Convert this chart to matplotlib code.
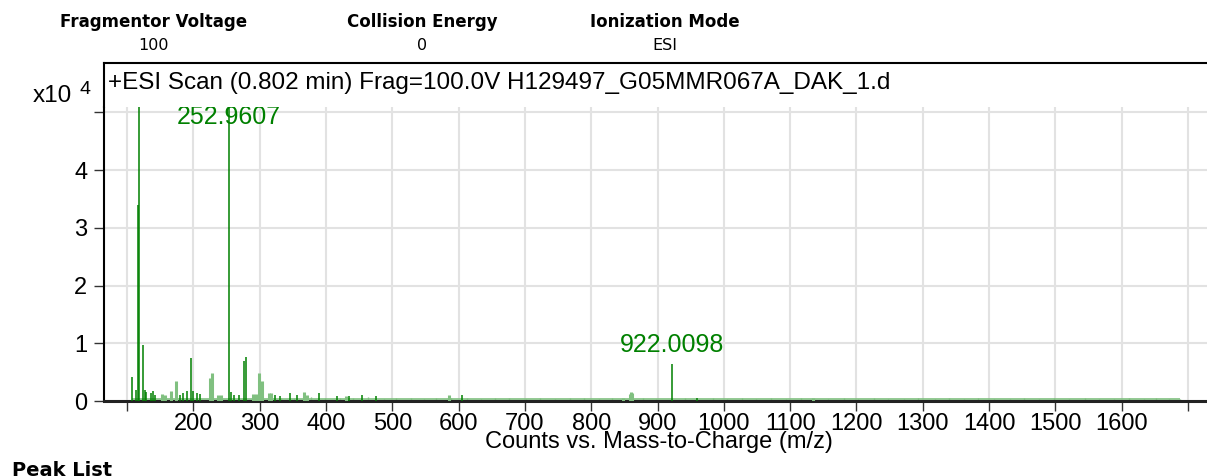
import numpy as np
import matplotlib.pyplot as plt
from matplotlib.ticker import FuncFormatter

# header info
header_names = ['Fragmentor Voltage', 'Collision Energy', 'Ionization Mode']
header_values = ['100', '0', 'ESI']
scan_title = '+ESI Scan (0.802 min) Frag=100.0V H129497_G05MMR067A_DAK_1.d'

# strong centroid peaks (m/z, counts x10^4)
dark_mz = [107.6, 114.0, 115.7, 118.0, 124.0, 127.4, 129.0, 136.0, 139.0, 142.6,
           179.6, 184.6, 190.7, 195.6, 198.6, 206.0, 209.6, 252.96, 256.7, 261.7,
           269.0, 276.5, 279.0, 322.7, 330.0, 345.0, 356.7, 389.5, 416.6, 434.7,
           454.8, 476.0, 604.3, 922.0098, 960.0]
dark_int = [0.41, 0.19, 3.40, 5.20, 0.97, 0.19, 0.15, 0.13, 0.17, 0.11,
            0.11, 0.13, 0.18, 0.74, 0.18, 0.13, 0.12, 5.20, 0.16, 0.11,
            0.10, 0.70, 0.76, 0.10, 0.08, 0.13, 0.10, 0.13, 0.08, 0.09,
            0.10, 0.08, 0.10, 0.64, 0.06]

# weaker / broader peaks drawn lighter
light_mz = [152.7, 157.7, 166.7, 173.5, 224.7, 227.7, 237.3, 240.8, 290.5, 293.6,
            298.1, 300.6, 303.6, 314.0, 316.7, 366.3, 371.3, 429.6, 585.6, 847.7,
            858.5, 860.5, 862.0, 1134.0]
light_int = [0.12, 0.10, 0.17, 0.35, 0.40, 0.48, 0.11, 0.10, 0.12, 0.12,
             0.48, 0.26, 0.35, 0.13, 0.13, 0.15, 0.11, 0.09, 0.10, 0.05,
             0.12, 0.15, 0.13, 0.06]

# low-level noise along the baseline
noise_mz = [332, 351, 377, 398, 421, 441, 463, 487, 506, 528, 547, 566, 589, 612,
            634, 655, 676, 701, 723, 746, 768, 789, 811, 832, 878, 897, 941, 983,
            1004, 1027, 1049, 1071, 1093, 1116, 1157, 1181, 1203, 1226, 1248, 1271,
            1293, 1318, 1339, 1362, 1384, 1407, 1431, 1452, 1476, 1498, 1521, 1544,
            1566, 1589, 1611, 1633, 1652, 1671, 1688]
noise_int = [0.06, 0.05, 0.07, 0.05, 0.06, 0.05, 0.07, 0.04, 0.05, 0.06, 0.04, 0.05,
             0.06, 0.05, 0.04, 0.05, 0.06, 0.04, 0.05, 0.04, 0.05, 0.06, 0.04, 0.05,
             0.05, 0.04, 0.05, 0.05, 0.04, 0.05, 0.04, 0.05, 0.04, 0.05, 0.04, 0.05,
             0.04, 0.05, 0.04, 0.04, 0.05, 0.04, 0.05, 0.04, 0.05, 0.04, 0.04, 0.05,
             0.04, 0.05, 0.04, 0.05, 0.04, 0.04, 0.05, 0.04, 0.05, 0.04, 0.04]
baseline_level = 0.03

labelled_mz = [252.9607, 922.0098]
labelled_int = [5.20, 0.64]

x_ticks = list(range(100, 1800, 100))
y_ticks = [0, 1, 2, 3, 4, 5]

green = '#008000'
light_green = '#80c080'

fig = plt.figure(figsize=(12.07, 4.76), dpi=100)
W, H = 1207.0, 476.0

# main plot area
ax = fig.add_axes([104 / W, (H - 401) / H, 0.920, (401 - 107) / H])
ax.set_xlim(65, 1740)
ax.set_ylim(0, 5.095)

ax.set_xticks(x_ticks)
ax.set_yticks(y_ticks)
ax.xaxis.set_major_formatter(FuncFormatter(lambda v, p: '' if v in (100, 1700) else '%d' % v))
ax.yaxis.set_major_formatter(FuncFormatter(lambda v, p: '' if v >= 5 else '%d' % v))
ax.grid(True, color='#e2e2e2', linewidth=1.5)
ax.set_axisbelow(True)
ax.tick_params(direction='out', length=7, width=1, color='#333333', labelsize=17, pad=2)
ax.tick_params(axis='y', pad=5)

for s in ['top', 'right']:
    ax.spines[s].set_visible(False)
ax.spines['left'].set_linewidth(1.5)
ax.spines['bottom'].set_linewidth(2.2)
ax.spines['bottom'].set_color('#222222')

ax.hlines(baseline_level, min(dark_mz), max(noise_mz), color=light_green, linewidth=1.2, zorder=2)
ax.vlines(noise_mz, 0, noise_int, color=light_green, linewidth=1.0, zorder=2)
ax.vlines(light_mz, 0, light_int, color=light_green, linewidth=2.2, zorder=3)
ax.vlines(dark_mz, 0, dark_int, color=green, linewidth=1.1, zorder=4)

for mz, h in zip(labelled_mz, labelled_int):
    ax.text(mz, min(h + 0.12, 4.72), '%.4f' % mz, color=green, fontsize=18,
            ha='center', va='bottom', family='Liberation Sans')

ax.set_xlabel('Counts vs. Mass-to-Charge (m/z)', fontsize=17, labelpad=-3)

for t in ax.get_xticklabels() + ax.get_yticklabels():
    t.set_family('Liberation Sans')
ax.xaxis.label.set_family('Liberation Sans')

# title band above the plot area
tax = fig.add_axes([104 / W, (H - 107) / H, 0.920, (107 - 63) / H])
tax.set_xticks([])
tax.set_yticks([])
for s in ['right', 'bottom']:
    tax.spines[s].set_visible(False)
tax.spines['left'].set_linewidth(1.5)
tax.spines['top'].set_linewidth(1.5)
tax.text(0.004, 0.55, scan_title, fontsize=17.5, family='Liberation Sans',
         ha='left', va='center', transform=tax.transAxes)

# exponent label
fig.text(33 / W, (H - 96) / H, 'x10', fontsize=17.5, family='Liberation Sans', va='center')
fig.text(80 / W, (H - 89) / H, '4', fontsize=14, family='Liberation Sans', va='center')

# acquisition header
header_x = [154, 422, 665]
for x, name, val in zip(header_x, header_names, header_values):
    fig.text(x / W, (H - 22) / H, name, fontsize=12, fontweight='bold', ha='center', va='center')
    fig.text(x / W, (H - 45) / H, val, fontsize=11.5, ha='center', va='center')

fig.text(12 / W, (H - 461) / H, 'Peak List', fontsize=14, fontweight='bold', ha='left', va='top')

fig.savefig('out.png', dpi=100)
